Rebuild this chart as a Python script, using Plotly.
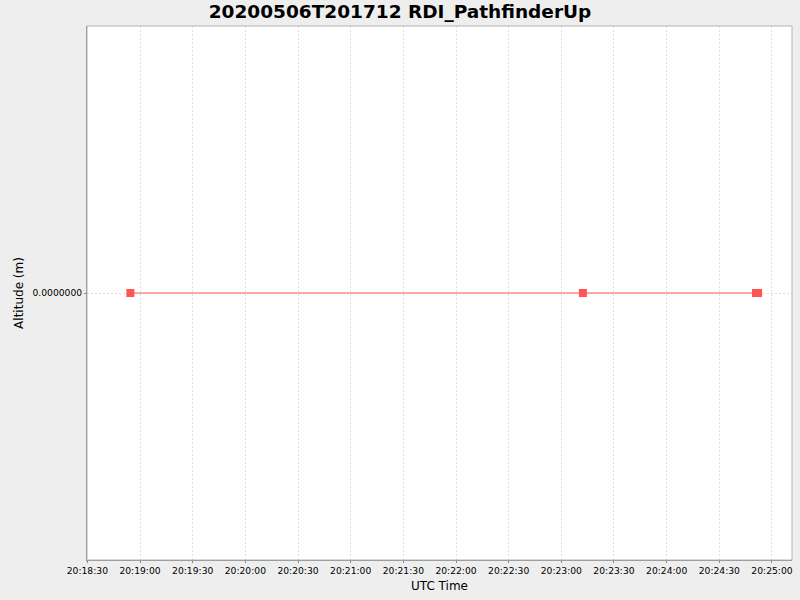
import plotly.graph_objects as go

times = ["2020-05-06 20:18:54.5", "2020-05-06 20:23:12.3",
         "2020-05-06 20:24:50.9", "2020-05-06 20:24:52.1"]
altitude = [0.0, 0.0, 0.0, 0.0]
x_range = ["2020-05-06 20:18:29.8", "2020-05-06 20:25:11.4"]
y_range = [-1.0, 1.0]
y_ticks = [0.0]
y_ticktext = ["0.0000000"]
title = "20200506T201712 RDI_PathfinderUp"

fig = go.Figure()
fig.add_trace(go.Scatter(
    x=times, y=altitude, mode="lines+markers",
    line=dict(color="#FF5555", width=1),
    marker=dict(symbol="square", size=8, color="#FF5555", line=dict(width=0)),
    showlegend=False,
))

font = "DejaVu Sans, sans-serif"
fig.update_layout(
    width=800, height=600,
    paper_bgcolor="#EEEEEE", plot_bgcolor="#FFFFFF",
    margin=dict(l=87, r=8, t=26, b=40),
    title=dict(text="<b>" + title + "</b>", x=0.5, xanchor="center",
               y=1 - 12 / 600, yanchor="middle",
               font=dict(family=font, size=18.5, color="#000000")),
    font=dict(family=font, color="#333333"),
)
fig.update_xaxes(
    type="date", range=x_range, tick0="2020-05-06 20:18:30", dtick=30000,
    tickformat="%H:%M:%S", tickfont=dict(size=9.2, color="#000000"),
    showgrid=True, gridcolor="#E0E0E0", griddash="2px,2px", gridwidth=1,
    showline=True, linecolor="#888888", linewidth=1,
    ticks="outside", ticklen=2, tickcolor="#888888",
    title=dict(text="UTC Time", font=dict(size=12, color="#000000"), standoff=6),
    zeroline=False,
)
fig.update_yaxes(
    range=y_range, tickvals=y_ticks, ticktext=y_ticktext,
    tickfont=dict(size=9.2, color="#000000"),
    showgrid=True, gridcolor="#E0E0E0", griddash="2px,2px", gridwidth=1,
    showline=True, linecolor="#888888", linewidth=1,
    ticks="outside", ticklen=2, tickcolor="#888888",
    title=dict(text="Altitude (m)", font=dict(size=12, color="#000000"), standoff=6),
    zeroline=False,
)
fig.add_shape(type="rect", xref="x domain", yref="y domain", x0=0, x1=1, y0=0, y1=1,
              line=dict(color="#B4B4B4", width=1), layer="above")
fig.write_html(
    "out.html",
    config={"displayModeBar": False},
    post_script="document.body.style.margin='0';document.body.style.background='#EEEEEE';",
)
